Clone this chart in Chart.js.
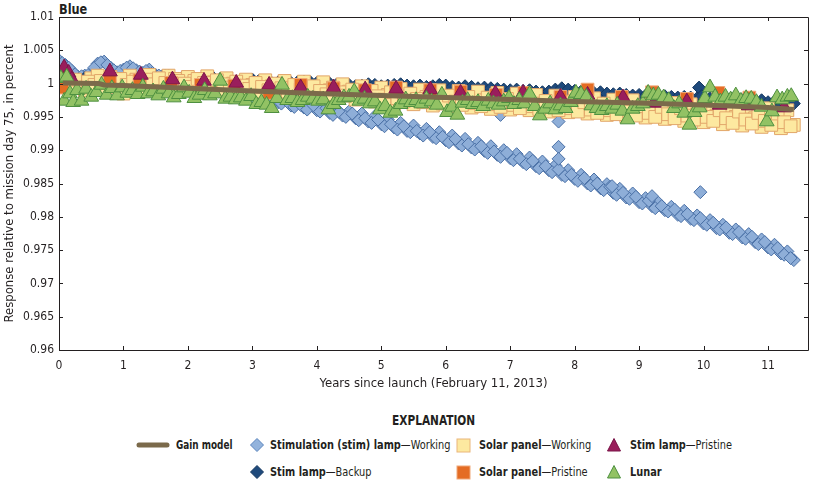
<!DOCTYPE html>
<html><head><meta charset="utf-8">
<script src="https://cdn.jsdelivr.net/npm/chart.js@4/dist/chart.umd.min.js"></script>
<style>
body{margin:0;width:818px;height:480px;background:#fff;position:relative;overflow:hidden;
 font-family:"Liberation Sans Narrow","DejaVu Sans Condensed","Liberation Sans",sans-serif;color:#231f20}
#wrap{position:absolute;left:0;top:0;width:818px;height:400px}
.t{position:absolute;font-size:12.5px;line-height:16px;white-space:nowrap;transform:scaleX(0.87);transform-origin:0 50%}
.mk{position:absolute}
#title{position:absolute;left:59px;top:1px;font-weight:bold;font-size:14px;line-height:16px;transform:scaleX(0.9);transform-origin:0 50%}
#expl{position:absolute;left:392px;top:412px;font-weight:bold;font-size:14px;line-height:16px;white-space:nowrap;transform:scaleX(0.84);transform-origin:0 50%}
</style></head>
<body>
<div id="title">Blue</div>
<div id="wrap"><canvas id="c" width="818" height="400"></canvas></div>
<div id="expl">EXPLANATION</div>

<svg class="mk" style="left:135px;top:440px" width="36" height="10"><line x1="4" y1="5" x2="32" y2="5" stroke="#7b6a4b" stroke-width="5" stroke-linecap="round"/></svg>
<div class="t" style="left:176px;top:437px;transform:scaleX(0.79)"><b>Gain model</b></div>
<svg class="mk" style="left:250px;top:438px" width="14" height="14"><polygon points="7,0.5 13.5,7 7,13.5 0.5,7" fill="#93b3dc" stroke="#5a84bd" stroke-width="1"/></svg>
<div class="t" style="left:270px;top:437px"><b>Stimulation (stim) lamp</b>—Working</div>
<svg class="mk" style="left:456px;top:438px" width="15" height="15"><rect x="1" y="1" width="13" height="13" fill="#fde9a0" stroke="#eab67a" stroke-width="1"/></svg>
<div class="t" style="left:479px;top:437px"><b>Solar panel</b>—Working</div>
<svg class="mk" style="left:607px;top:438px" width="14" height="14"><polygon points="7,0.5 13.5,13 0.5,13" fill="#9a1e5c" stroke="#7a1448" stroke-width="1"/></svg>
<div class="t" style="left:630px;top:437px"><b>Stim lamp</b>—Pristine</div>

<svg class="mk" style="left:250px;top:465px" width="14" height="14"><polygon points="7,0.5 13.5,7 7,13.5 0.5,7" fill="#1f4a7c" stroke="#14375f" stroke-width="1"/></svg>
<div class="t" style="left:270px;top:464px"><b>Stim lamp</b>—Backup</div>
<svg class="mk" style="left:456px;top:465px" width="15" height="15"><rect x="1" y="1" width="13" height="13" fill="#e46c24" stroke="#f0a878" stroke-width="1"/></svg>
<div class="t" style="left:479px;top:464px"><b>Solar panel</b>—Pristine</div>
<svg class="mk" style="left:607px;top:465px" width="14" height="14"><polygon points="7,0.5 13.5,13 0.5,13" fill="#92c264" stroke="#4e9040" stroke-width="1"/></svg>
<div class="t" style="left:630px;top:464px"><b>Lunar</b></div>

<script>
const xTickValues = [0,1,2,3,4,5,6,7,8,9,10,11];
const yTickValues = [0.96,0.965,0.97,0.975,0.98,0.985,0.99,0.995,1.0,1.005,1.01];

const monthlyYears = [0.0,0.1,0.2,0.3,0.4,0.5,0.6,0.7,0.8,0.9,
 1.0,1.1,1.2,1.3,1.4,1.5,1.6,1.7,1.8,1.9,
 2.0,2.1,2.2,2.3,2.4,2.5,2.6,2.7,2.8,2.9,
 3.0,3.1,3.2,3.3,3.4,3.5,3.6,3.7,3.8,3.9,
 4.0,4.1,4.2,4.3,4.4,4.5,4.6,4.7,4.8,4.9,
 5.0,5.1,5.2,5.3,5.4,5.5,5.6,5.7,5.8,5.9,
 6.0,6.1,6.2,6.3,6.4,6.5,6.6,6.7,6.8,6.9,
 7.0,7.1,7.2,7.3,7.4,7.5,7.6,7.7,7.8,7.9,
 8.0,8.1,8.2,8.3,8.4,8.5,8.6,8.7,8.8,8.9,
 9.0,9.1,9.2,9.3,9.4,9.5,9.6,9.7,9.8,9.9,
 10.0,10.1,10.2,10.3,10.4,10.5,10.6,10.7,10.8,10.9,
 11.0,11.1,11.2,11.3,11.4];
const midYears = [0.05,0.15,0.25,0.35,0.45,0.55,0.65,0.75,0.85,0.95,
 1.05,1.15,1.25,1.35,1.45,1.55,1.65,1.75,1.85,1.95,
 2.05,2.15,2.25,2.35,2.45,2.55,2.65,2.75,2.85,2.95,
 3.05,3.15,3.25,3.35,3.45,3.55,3.65,3.75,3.85,3.95,
 4.05,4.15,4.25,4.35,4.45,4.55,4.65,4.75,4.85,4.95,
 5.05,5.15,5.25,5.35,5.45,5.55,5.65,5.75,5.85,5.95,
 6.05,6.15,6.25,6.35,6.45,6.55,6.65,6.75,6.85,6.95,
 7.05,7.15,7.25,7.35,7.45,7.55,7.65,7.75,7.85,7.95,
 8.05,8.15,8.25,8.35,8.45,8.55,8.65,8.75,8.85,8.95,
 9.05,9.15,9.25,9.35,9.45,9.55,9.65,9.75,9.85,9.95,
 10.05,10.15,10.25,10.35,10.45,10.55,10.65,10.75,10.85,10.95,
 11.05,11.15,11.25,11.35];

const stimWorking = [1.0035,1.0028,1.0019,1.0010,1.0012,1.0016,1.0030,1.0033,1.0024,1.0017,
 1.0021,1.0026,1.0020,1.0016,1.0021,1.0013,1.0011,1.0012,1.0006,1.0008,
 1.0002,1.0005,0.9998,1.0001,0.9995,0.9996,0.9989,0.9993,0.9985,0.9988,
 0.9980,0.9984,0.9976,0.9981,0.9972,0.9977,0.9967,0.9973,0.9964,0.9970,
 0.9960,0.9966,0.9956,0.9962,0.9952,0.9958,0.9948,0.9955,0.9943,0.9951,
 0.9939,0.9946,0.9934,0.9941,0.9929,0.9937,0.9925,0.9932,0.9920,0.9927,
 0.9915,0.9922,0.9910,0.9917,0.9904,0.9911,0.9899,0.9906,0.9893,0.9900,
 0.9888,0.9894,0.9882,0.9889,0.9876,0.9883,0.9870,0.9877,0.9863,0.9870,
 0.9857,0.9863,0.9850,0.9856,0.9843,0.9849,0.9836,0.9842,0.9829,0.9835,
 0.9822,0.9828,0.9816,0.9821,0.9810,0.9815,0.9803,0.9809,0.9797,0.9802,
 0.9790,0.9795,0.9783,0.9788,0.9776,0.9781,0.9769,0.9774,0.9762,0.9766,
 0.9754,0.9758,0.9745,0.9748,0.9735];
const stimWorkingMid = [1.0031,1.0024,1.0014,1.0011,1.0013,1.0024,1.0032,1.0028,1.0020,1.0019,
 1.0024,1.0023,1.0018,1.0019,1.0016,1.0012,1.0012,1.0009,1.0007,1.0005,
 1.0003,1.0001,0.9999,0.9997,0.9995,0.9992,0.9991,0.9988,0.9986,0.9983,
 0.9976,0.9983,0.9973,0.9975,0.9970,0.9972,0.9965,0.9968,0.9961,0.9967,
 0.9958,0.9963,0.9953,0.9957,0.9950,0.9955,0.9945,0.9948,0.9941,0.9946,
 0.9936,0.9939,0.9931,0.9936,0.9927,0.9929,0.9922,0.9927,0.9918,0.9920,
 0.9912,0.9917,0.9907,0.9909,0.9901,0.9906,0.9896,0.9898,0.9890,0.9896,
 0.9885,0.9887,0.9879,0.9884,0.9873,0.9876,0.9867,0.9871,0.9861,0.9863,
 0.9854,0.9858,0.9847,0.9850,0.9840,0.9845,0.9833,0.9836,0.9827,0.9830,
 0.9820,0.9824,0.9813,0.9816,0.9808,0.9811,0.9801,0.9804,0.9795,0.9798,
 0.9788,0.9791,0.9781,0.9784,0.9774,0.9777,0.9767,0.9770,0.9759,0.9762,
 0.9751,0.9753,0.9743,0.9738];
const stimWorkingExtraYears = [6.85,7.75,7.75,7.75,8.58,9.2,9.95];
const stimWorkingExtra = [0.9953,0.9943,0.9905,0.9887,0.9846,0.9831,0.9837];

const stimBackup = [1.0012,1.0009,1.0007,1.0006,1.0008,1.0005,1.0006,1.0008,1.0006,1.0005,
 1.0006,1.0007,1.0005,1.0004,1.0006,1.0005,1.0004,1.0006,1.0005,1.0004,
 1.0003,1.0004,1.0005,1.0006,1.0008,1.0007,1.0004,1.0003,1.0002,1.0004,
 1.0006,1.0004,1.0002,1.0001,1.0002,1.0000,1.0001,1.0002,1.0003,1.0002,
 1.0001,0.9999,1.0000,0.9998,0.9997,0.9998,0.9996,0.9997,0.9999,0.9998,
 0.9996,0.9997,0.9998,0.9999,0.9997,0.9996,0.9997,0.9995,0.9996,0.9998,
 0.9997,0.9995,0.9994,0.9996,0.9995,0.9993,0.9994,0.9993,0.9992,0.9991,
 0.9990,0.9991,0.9989,0.9990,0.9988,0.9987,0.9988,0.9991,0.9993,0.9991,
 0.9989,0.9988,0.9987,0.9986,0.9987,0.9985,0.9984,0.9985,0.9983,0.9982,
 0.9983,0.9982,0.9981,0.9980,0.9981,0.9980,0.9979,0.9980,0.9979,0.9978,
 0.9979,0.9978,0.9977,0.9978,0.9976,0.9977,0.9975,0.9976,0.9974,0.9975,
 0.9972,0.9973,0.9971,0.9972,0.9970];
const stimBackupExtraYears = [9.93,9.97];
const stimBackupExtra = [0.9994,0.9981];

const solarWorking = [1.0010,1.0005,0.9995,1.0000,0.9990,1.0008,1.0012,0.9992,1.0010,1.0002,
 0.9985,1.0012,1.0006,0.9990,1.0013,1.0004,0.9995,1.0012,1.0007,0.9993,
 1.0010,1.0004,0.9996,1.0011,1.0002,0.9992,1.0008,1.0000,0.9990,1.0006,
 0.9998,0.9988,1.0005,0.9996,0.9986,1.0004,0.9994,0.9984,1.0003,0.9993,
 0.9985,1.0002,0.9990,0.9980,0.9999,0.9988,0.9976,0.9996,0.9985,0.9973,
 0.9994,0.9983,0.9970,0.9992,0.9981,0.9969,0.9991,0.9980,0.9967,0.9990,
 0.9979,0.9966,0.9989,0.9977,0.9964,0.9988,0.9975,0.9962,0.9986,0.9973,
 0.9961,0.9985,0.9972,0.9960,0.9983,0.9970,0.9958,0.9982,0.9968,0.9957,
 0.9980,0.9966,0.9955,0.9978,0.9964,0.9953,0.9976,0.9962,0.9951,0.9975,
 0.9960,0.9949,0.9973,0.9958,0.9947,0.9971,0.9956,0.9944,0.9969,0.9954,
 0.9942,0.9968,0.9952,0.9939,0.9966,0.9950,0.9937,0.9965,0.9948,0.9935,
 0.9963,0.9946,0.9933,0.9960,0.9938];
const solarWorkingMid = [1.0002,0.9998,1.0006,0.9994,1.0003,0.9998,1.0004,1.0001,0.9995,1.0007,
 0.9998,1.0003,0.9994,1.0006,0.9999,1.0008,1.0001,0.9996,1.0004,1.0000,
 0.9995,1.0007,1.0001,0.9996,1.0005,0.9999,0.9994,1.0003,0.9997,0.9992,
 1.0001,0.9995,0.9990,1.0000,0.9993,0.9988,0.9998,0.9991,0.9987,0.9996,
 0.9989,0.9984,0.9994,0.9987,0.9982,0.9991,0.9984,0.9979,0.9989,0.9981,
 0.9976,0.9987,0.9978,0.9974,0.9985,0.9977,0.9972,0.9983,0.9975,0.9970,
 0.9982,0.9973,0.9968,0.9980,0.9971,0.9966,0.9979,0.9969,0.9965,0.9977,
 0.9968,0.9963,0.9976,0.9966,0.9962,0.9974,0.9965,0.9960,0.9973,0.9963,
 0.9958,0.9972,0.9961,0.9956,0.9970,0.9960,0.9954,0.9968,0.9958,0.9952,
 0.9966,0.9956,0.9950,0.9965,0.9954,0.9948,0.9963,0.9952,0.9946,0.9961,
 0.9950,0.9944,0.9960,0.9948,0.9941,0.9958,0.9946,0.9940,0.9956,0.9944,
 0.9938,0.9955,0.9942,0.9936];

const solarPristineYears = [0.03,0.05,0.79,1.25,1.74,2.2,2.72,3.26,3.75,4.26,4.75,5.23,5.76,6.23,6.78,7.22,7.78,8.2,8.73,9.2,9.74,10.23,10.71];
const solarPristine = [1.0018,0.9994,1.0005,1.0005,1.0001,0.9998,0.9997,0.9986,0.9998,0.9993,0.9990,0.9994,0.9990,0.9988,0.9983,0.9986,0.9980,0.9991,0.9980,0.9987,0.9977,0.9986,0.9979];

const stimPristineYears = [0.08,0.15,0.2,0.79,1.27,1.76,2.25,2.75,3.26,3.75,4.26,4.75,5.23,5.76,6.23,6.77,7.2,7.78,8.2,8.75,9.23,9.74,10.25,10.7,11.25];
const stimPristine = [1.0024,1.0016,1.0006,1.0018,1.0013,1.0006,1.0004,1.0001,0.9998,0.9994,0.9994,0.9991,0.9992,0.9991,0.9986,0.9985,0.9986,0.9980,0.9983,0.9979,0.9971,0.9973,0.9968,0.9967,0.9964];

const lunarYears = [0.03,0.08,0.12,0.17,0.22,0.28,0.35,0.42,0.50,0.58,0.66,0.74,0.82,0.90,0.98,
 1.06,1.14,1.22,1.30,1.38,1.46,1.54,1.62,1.70,1.78,1.86,1.94,
 2.02,2.10,2.18,2.26,2.34,2.42,2.50,2.58,2.66,2.74,2.82,2.90,2.98,
 3.06,3.14,3.22,3.30,3.38,3.46,3.54,3.62,3.70,3.78,3.86,3.94,
 4.02,4.10,4.18,4.26,4.34,4.42,4.50,4.58,4.66,4.74,4.82,4.90,4.98,
 5.06,5.14,5.22,5.30,5.38,5.46,5.54,5.62,5.70,5.78,5.86,5.94,
 6.02,6.10,6.18,6.26,6.34,6.42,6.50,6.58,6.66,6.74,6.82,6.90,6.98,
 7.06,7.14,7.22,7.30,7.38,7.46,7.54,7.62,7.70,7.78,7.86,7.94,
 8.02,8.10,8.18,8.26,8.34,8.42,8.50,8.58,8.66,8.74,8.82,8.90,8.98,
 9.06,9.14,9.22,9.30,9.38,9.46,9.54,9.62,9.70,9.78,9.86,9.94,
 10.02,10.10,10.18,10.26,10.34,10.42,10.50,10.58,10.66,10.74,10.82,10.90,10.98,
 11.06,11.14,11.22,11.30,11.36];
const lunar = [1.0008,0.9974,1.0010,0.9985,0.9972,0.9990,0.9974,0.9992,0.9980,0.9987,0.9998,0.9983,0.9993,0.9982,0.9994,
 0.9986,0.9990,0.9984,0.9995,0.9985,0.9988,0.9982,0.9992,0.9985,0.9979,0.9984,0.9994,
 0.9986,0.9978,0.9983,0.9990,0.9982,0.9985,1.0004,0.9977,0.9980,0.9976,0.9979,0.9974,0.9981,
 0.9969,0.9972,0.9968,0.9963,0.9978,0.9998,0.9975,0.9978,0.9972,0.9975,0.9980,0.9977,
 0.9974,0.9976,0.9961,0.9969,0.9975,0.9979,0.9980,0.9988,0.9974,0.9977,0.9970,0.9973,0.9961,
 0.9966,0.9956,0.9959,0.9969,0.9976,0.9972,0.9975,0.9970,0.9977,0.9973,0.9968,0.9983,
 0.9957,0.9965,0.9953,0.9971,0.9975,0.9969,0.9972,0.9966,0.9974,0.9970,0.9968,0.9973,0.9978,
 0.9969,0.9975,0.9970,0.9984,0.9966,0.9952,0.9962,0.9970,0.9961,0.9967,0.9963,0.9972,
 0.9986,0.9984,0.9980,0.9967,0.9963,0.9960,0.9966,0.9962,0.9968,0.9959,0.9946,0.9962,0.9966,
 0.9970,0.9986,0.9982,0.9983,0.9979,0.9975,0.9963,0.9970,0.9956,0.9938,0.9957,0.9964,
 0.9978,0.9994,0.9980,0.9973,0.9980,0.9976,0.9982,0.9974,0.9978,0.9977,0.9972,0.9965,0.9943,
 0.9958,0.9979,0.9976,0.9980,0.9981];

const gainYears = [0.06,0.62,0.70,1,2,3,4,5,6,7,8,9,10,11,11.4];
const gainModel = [1.0001,1.0000,0.9998,0.9997,0.9993,0.9989,0.9985,0.9982,0.9979,0.9976,0.9973,0.9971,0.9968,0.9964,0.9961];

const pts = (xs, ys) => xs.map((x, i) => ({x: x, y: ys[i]}));
const FONT = '"Liberation Sans Narrow","DejaVu Sans Condensed","Liberation Sans",sans-serif';

const frame = {
  id: 'frame',
  afterDatasetsDraw(chart) {
    const {ctx, chartArea: a, scales: {x, y}} = chart;
    ctx.save();
    ctx.strokeStyle = '#231f20';
    ctx.lineWidth = 1;
    ctx.beginPath();
    ctx.rect(Math.round(a.left) + 0.5, Math.round(a.top) + 0.5, Math.round(a.right - a.left), Math.round(a.bottom - a.top));
    ctx.stroke();
    ctx.beginPath();
    x.ticks.forEach(t => {
      const px = Math.round(x.getPixelForValue(t.value)) + 0.5;
      ctx.moveTo(px, a.bottom); ctx.lineTo(px, a.bottom - 4);
      ctx.moveTo(px, a.top); ctx.lineTo(px, a.top + 4);
    });
    y.ticks.forEach(t => {
      const py = Math.round(y.getPixelForValue(t.value)) + 0.5;
      ctx.moveTo(a.left, py); ctx.lineTo(a.left + 4, py);
      ctx.moveTo(a.right, py); ctx.lineTo(a.right - 4, py);
    });
    ctx.stroke();
    ctx.restore();
  }
};

new Chart(document.getElementById('c'), {
  type: 'scatter',
  data: {
    datasets: [
      {label: 'Gain model', data: pts(gainYears, gainModel), showLine: true,
       borderColor: '#7b6a4b', backgroundColor: '#7b6a4b', borderWidth: 5, pointRadius: 0, order: -1},
      {label: 'Stimulation (stim) lamp—Working',
       data: pts(monthlyYears, stimWorking).concat(pts(midYears, stimWorkingMid), pts(stimWorkingExtraYears, stimWorkingExtra)),
       pointStyle: 'rectRot', pointRadius: 6.5, backgroundColor: '#8eaed8', borderColor: '#4a70a6', borderWidth: 1, order: 6},
      {label: 'Solar panel—Working', data: pts(monthlyYears, solarWorking).concat(pts(midYears, solarWorkingMid)),
       pointStyle: 'rect', pointRadius: 9, backgroundColor: '#fde9a0', borderColor: '#e2a66a', borderWidth: 1, order: 4},
      {label: 'Stim lamp—Pristine', data: pts(stimPristineYears, stimPristine),
       pointStyle: 'triangle', pointRadius: 8.5, backgroundColor: '#9a1e5c', borderColor: '#7a1448', borderWidth: 1, order: 2},
      {label: 'Stim lamp—Backup', data: pts(monthlyYears, stimBackup).concat(pts(stimBackupExtraYears, stimBackupExtra)),
       pointStyle: 'rectRot', pointRadius: 6.5, backgroundColor: '#1f4a7c', borderColor: '#14375f', borderWidth: 1, order: 5},
      {label: 'Solar panel—Pristine', data: pts(solarPristineYears, solarPristine),
       pointStyle: 'rect', pointRadius: 9, backgroundColor: '#e46c24', borderColor: '#f0a878', borderWidth: 1, order: 3},
      {label: 'Lunar', data: pts(lunarYears, lunar),
       pointStyle: 'triangle', pointRadius: 8.5, backgroundColor: '#92c264', borderColor: '#4e9040', borderWidth: 1, order: 0}
    ]
  },
  options: {
    responsive: false, animation: false, devicePixelRatio: 1,
    layout: {padding: {top: 17, right: 6, left: 0, bottom: 0}},
    plugins: {legend: {display: false}, tooltip: {enabled: false}},
    scales: {
      x: {
        type: 'linear', min: 0, max: 11.62,
        afterBuildTicks: s => { s.ticks = xTickValues.map(v => ({value: v})); },
        afterFit: s => { s.height = 50; },
        grid: {display: false, drawTicks: false}, border: {display: false},
        ticks: {padding: 9, color: '#231f20', font: {family: FONT, size: 12}, callback: v => String(v)},
        title: {display: true, text: 'Years since launch (February 11, 2013)', color: '#231f20',
                font: {family: FONT, size: 13}, padding: {top: 0, bottom: 9}}
      },
      y: {
        type: 'linear', min: 0.96, max: 1.01,
        afterBuildTicks: s => { s.ticks = yTickValues.map(v => ({value: v})); },
        afterFit: s => { s.width = 59; },
        grid: {display: false, drawTicks: false}, border: {display: false},
        ticks: {padding: 5, color: '#231f20', font: {family: FONT, size: 12},
                callback: v => String(parseFloat(Number(v).toFixed(3)))},
        title: {display: true, text: 'Response relative to mission day 75, in percent', color: '#231f20',
                font: {family: FONT, size: 13}, padding: {top: 2, bottom: 0}}
      }
    }
  },
  plugins: [frame]
});
</script>
</body></html>
